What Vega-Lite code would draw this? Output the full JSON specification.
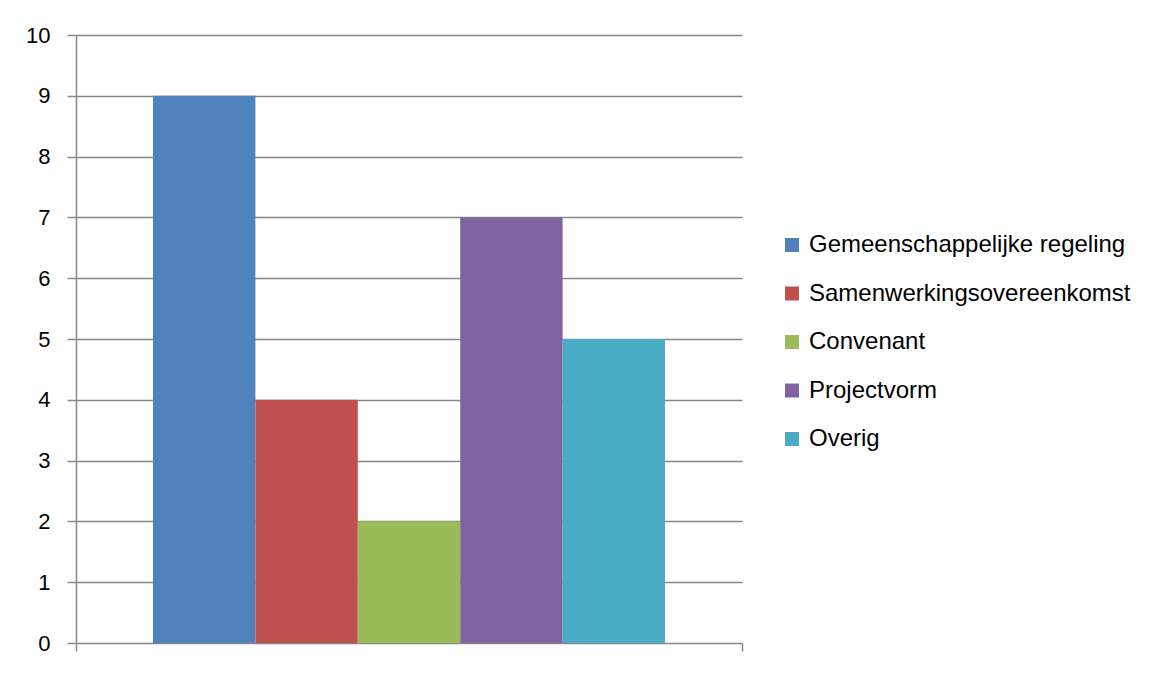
{
  "$schema": "https://vega.github.io/schema/vega-lite/v6.json",
  "autosize": "none",
  "width": 666,
  "height": 608,
  "padding": {"left": 76, "top": 35, "right": 410, "bottom": 30},
  "background": "white",
  "data": {"values": [
    {"cat": "", "series": "Gemeenschappelijke regeling", "value": 9},
    {"cat": "", "series": "Samenwerkingsovereenkomst", "value": 4},
    {"cat": "", "series": "Convenant", "value": 2},
    {"cat": "", "series": "Projectvorm", "value": 7},
    {"cat": "", "series": "Overig", "value": 5}
  ]},
  "mark": {"type": "bar", "strokeWidth": 0},
  "encoding": {
    "x": {"field": "cat", "type": "nominal", "scale": {"paddingInner": 0, "paddingOuter": 0},
      "axis": {"title": null, "labels": false, "tickBand": "extent", "domain": false, "tickColor": "#888888", "tickSize": 8, "tickWidth": 1.5}},
    "xOffset": {"field": "series", "type": "nominal", "sort": ["Gemeenschappelijke regeling", "Samenwerkingsovereenkomst", "Convenant", "Projectvorm", "Overig"],
      "scale": {"paddingInner": 0, "paddingOuter": 0.752}},
    "y": {"field": "value", "type": "quantitative", "scale": {"domain": [0, 10], "nice": false},
      "axis": {"title": null, "values": [0,1,2,3,4,5,6,7,8,9,10], "grid": true, "gridColor": "#888888", "gridWidth": 1.5,
        "domainColor": "#888888", "domainWidth": 1.5, "tickColor": "#888888", "tickSize": 9, "tickWidth": 1.5,
        "labelFont": "Liberation Sans", "labelFontSize": 22, "labelColor": "#000000", "labelPadding": 17}},
    "color": {"field": "series", "type": "nominal", "sort": ["Gemeenschappelijke regeling", "Samenwerkingsovereenkomst", "Convenant", "Projectvorm", "Overig"],
      "scale": {"domain": ["Gemeenschappelijke regeling", "Samenwerkingsovereenkomst", "Convenant", "Projectvorm", "Overig"],
        "range": ["#4F81BD", "#C0504D", "#9BBB59", "#8064A2", "#4BACC6"]},
      "legend": {"title": null, "orient": "none", "legendX": 704, "legendY": 198, "symbolType": "square", "symbolSize": 196,
        "symbolStrokeWidth": 0, "labelFont": "Liberation Sans", "labelFontSize": 24, "labelColor": "#000000", "labelOffset": 5, "rowPadding": 24.5, "labelLimit": 400}}
  },
  "config": {"view": {"stroke": null}}
}
